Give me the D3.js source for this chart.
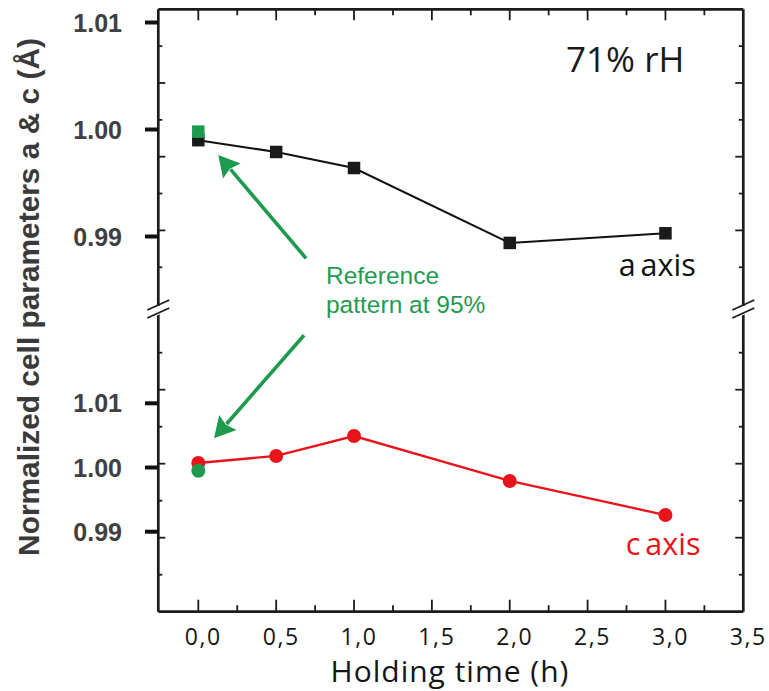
<!DOCTYPE html>
<html>
<head>
<meta charset="utf-8">
<script src="https://cdn.jsdelivr.net/npm/d3@7"></script>
<style>
  html, body { margin: 0; padding: 0; background: #fff; }
  svg { display: block; }
</style>
</head>
<body>
<svg id="chart" width="769" height="691"></svg>
<script>
// Holding time (h)
const hours = [0, 0.5, 1.0, 2.0, 3.0];
// Normalized lattice parameters at 71% rH
const aAxis = [0.9990, 0.9979, 0.9964, 0.9894, 0.9903];
const cAxis = [1.0007, 1.0018, 1.0049, 0.9979, 0.9926];
// Reference pattern recorded at 95% rH (time zero)
const refA = 0.9998;
const refC = 0.9995;
// Axis ticks
const xTicks = [0, 0.5, 1.0, 1.5, 2.0, 2.5, 3.0, 3.5];
const xMinorTicks = [0.25, 0.75, 1.25, 1.75, 2.25, 2.75, 3.25];
const yTicks = [0.99, 1.00, 1.01];

const svg = d3.select("#chart");

// plot frame
const L = 158.3, R = 743.3, T = 9.3, B = 611.7, breakY = 309;

const x = d3.scaleLinear().domain([-0.257, 3.5]).range([L, R]);
// upper panel: a axis, lower panel: c axis
const yTop = d3.scaleLinear().domain([0.99, 1.01]).range([236.5, 22.5]);
const yBot = d3.scaleLinear().domain([0.99, 1.01]).range([531.7, 403.3]);

// minor tick grids along the panel edges (in tick steps from the outer frame)
const topGrid = d3.scaleLinear().domain([0, 8]).range([T, T + 8 * 36.85]);
const botGrid = d3.scaleLinear().domain([0, 8]).range([B, B - 8 * 37]);
const gridSteps = d3.range(1, 8);

const ink = "#1c1c1c";
const red = "#e8141b";
const green = "#1d9a4e";
const labelGrey = "#404040";

// ---- frame ----
const frame = svg.append("g").attr("stroke", ink).attr("stroke-width", 2.7).attr("fill", "none");
frame.append("line").attr("x1", L).attr("x2", R).attr("y1", T).attr("y2", T);
frame.append("line").attr("x1", L).attr("x2", R).attr("y1", B).attr("y2", B);
frame.append("line").attr("x1", L).attr("x2", L).attr("y1", T).attr("y2", B);
frame.append("line").attr("x1", R).attr("x2", R).attr("y1", T).attr("y2", B);

// x ticks on bottom and top edges
const xt = svg.append("g").attr("stroke", ink).attr("stroke-width", 1.8);
xTicks.filter(v => x(v) < R - 2).forEach(v => {
  xt.append("line").attr("x1", x(v)).attr("x2", x(v)).attr("y1", B).attr("y2", B - 12);
  xt.append("line").attr("x1", x(v)).attr("x2", x(v)).attr("y1", T).attr("y2", T + 11);
});
xMinorTicks.forEach(v => {
  xt.append("line").attr("x1", x(v)).attr("x2", x(v)).attr("y1", B).attr("y2", B - 6.5);
  xt.append("line").attr("x1", x(v)).attr("x2", x(v)).attr("y1", T).attr("y2", T + 6);
});

// inner ticks along left and right edges
[topGrid, botGrid].forEach(g => {
  gridSteps.forEach(k => {
    const yy = g(k);
    const long = k % 2 === 0;
    xt.append("line").attr("x1", L).attr("x2", L + (long ? 7 : 4)).attr("y1", yy).attr("y2", yy);
    xt.append("line").attr("x1", R).attr("x2", R - (long ? 8 : 4.5)).attr("y1", yy).attr("y2", yy);
  });
});

// axis breaks
function axisBreak(cx, cy) {
  const g = svg.append("g");
  g.append("polygon")
    .attr("points", [[cx - 6, cy + 1], [cx + 6, cy - 5], [cx + 6, cy + 3], [cx - 6, cy + 9]].map(p => p.join(",")).join(" "))
    .attr("fill", "#fff");
  g.append("rect").attr("x", cx - 3).attr("y", cy - 3).attr("width", 6).attr("height", 8).attr("fill", "#fff");
  [-4, 4].forEach(off => {
    g.append("line")
      .attr("x1", cx - 11).attr("y1", cy + off + 5)
      .attr("x2", cx + 11).attr("y2", cy + off - 5)
      .attr("stroke", ink).attr("stroke-width", 1.8);
  });
}
axisBreak(L, breakY);
axisBreak(R, breakY);

// ---- y tick labels (both panels) ----
[yTop, yBot].forEach(s => {
  yTicks.forEach(v => {
    svg.append("line")
      .attr("x1", 145).attr("x2", L).attr("y1", s(v)).attr("y2", s(v))
      .attr("stroke", "#111").attr("stroke-width", 4);
    svg.append("text")
      .attr("x", 122).attr("y", s(v) + 9)
      .attr("text-anchor", "end")
      .attr("font-family", "Liberation Sans, Arial, sans-serif")
      .attr("font-weight", "bold").attr("font-size", 25)
      .attr("fill", labelGrey)
      .text(d3.format(".2f")(v));
  });
});

// ---- x tick labels ----
const fmtComma = v => d3.format(".1f")(v).replace(".", ",");
xTicks.forEach(v => {
  svg.append("text")
    .attr("x", x(v) + 5).attr("y", 645)
    .attr("text-anchor", "middle")
    .attr("font-family", "Open Sans, sans-serif")
    .attr("font-size", 23).attr("letter-spacing", 1.6)
    .attr("fill", "#151515")
    .text(fmtComma(v));
});

// axis titles
svg.append("text")
  .attr("x", 450).attr("y", 682)
  .attr("text-anchor", "middle")
  .attr("font-family", "Open Sans, sans-serif")
  .attr("font-size", 30).attr("letter-spacing", 1)
  .attr("fill", "#151515")
  .text("Holding time (h)");

const yTitle = svg.append("text")
  .attr("transform", "translate(39,297) rotate(-90)")
  .attr("text-anchor", "middle")
  .attr("font-family", "Liberation Sans, Arial, sans-serif")
  .attr("font-weight", "bold").attr("font-size", 25)
  .attr("fill", "#3a3a3a")
  .text("Normalized cell parameters a & c (Å)");
{
  const len = yTitle.node().getComputedTextLength();
  yTitle.attr("font-size", 25 * 518 / len);
}

// ---- series ----
const aPts = hours.map((t, i) => ({ t, v: aAxis[i] }));
const cPts = hours.map((t, i) => ({ t, v: cAxis[i] }));

svg.append("path")
  .attr("d", d3.line().x(d => x(d.t)).y(d => yTop(d.v))(aPts))
  .attr("fill", "none").attr("stroke", "#111").attr("stroke-width", 2);
svg.append("path")
  .attr("d", d3.line().x(d => x(d.t)).y(d => yBot(d.v))(cPts))
  .attr("fill", "none").attr("stroke", red).attr("stroke-width", 2.3);

const sq = 12.5;
svg.append("g").selectAll("rect").data(aPts).join("rect")
  .attr("x", d => x(d.t) - sq / 2).attr("y", d => yTop(d.v) - sq / 2)
  .attr("width", sq).attr("height", sq).attr("fill", "#1a1a1a");
svg.append("g").selectAll("circle").data(cPts).join("circle")
  .attr("cx", d => x(d.t)).attr("cy", d => yBot(d.v)).attr("r", 7).attr("fill", red);

// reference points at t = 0
svg.append("rect")
  .attr("x", x(0) - sq / 2).attr("y", yTop(refA) - sq / 2)
  .attr("width", sq).attr("height", sq).attr("fill", green);
svg.append("circle")
  .attr("cx", x(0)).attr("cy", yBot(refC)).attr("r", 7).attr("fill", green);

// ---- annotations ----
function arrow(x1, y1, x2, y2) {
  const dx = x2 - x1, dy = y2 - y1, len = Math.hypot(dx, dy);
  const ux = dx / len, uy = dy / len;
  const hl = 21, hw = 11.5;
  const bx = x2 - ux * hl, by = y2 - uy * hl;
  svg.append("line")
    .attr("x1", x1).attr("y1", y1).attr("x2", bx + ux * 2).attr("y2", by + uy * 2)
    .attr("stroke", green).attr("stroke-width", 3.6);
  svg.append("polygon")
    .attr("points", [[x2, y2], [bx - uy * hw, by + ux * hw], [bx + ux * 3, by + uy * 3], [bx + uy * hw, by - ux * hw]]
      .map(p => p.join(",")).join(" "))
    .attr("fill", green);
}
arrow(x(0.692), yTop(0.98796), x(0.128), yTop(0.99762));
arrow(x(0.679), yBot(1.0206), x(0.101), yBot(1.00455));

const note = svg.append("text")
  .attr("font-family", "Liberation Sans, Arial, sans-serif")
  .attr("font-size", 24.5).attr("fill", "#1f9c52");
note.append("tspan").attr("x", x(0.82)).attr("y", yTop(0.98556)).text("Reference");
note.append("tspan").attr("x", x(0.82)).attr("dy", 28.7).text("pattern at 95%");

svg.append("text")
  .attr("x", x(2.362)).attr("y", yTop(1.0054))
  .attr("font-family", "Open Sans, sans-serif")
  .attr("font-size", 35).attr("fill", "#1a1a1a")
  .text("71% rH");

svg.append("text")
  .attr("x", x(2.70)).attr("y", yTop(0.98631))
  .attr("font-family", "Open Sans, sans-serif")
  .attr("font-size", 30.5).attr("fill", "#111")
  .attr("word-spacing", -3)
  .text("a axis");

svg.append("text")
  .attr("x", x(2.745)).attr("y", yBot(0.98637))
  .attr("font-family", "Open Sans, sans-serif")
  .attr("font-size", 30.5).attr("fill", red)
  .attr("word-spacing", -3)
  .text("c axis");
</script>
</body>
</html>
